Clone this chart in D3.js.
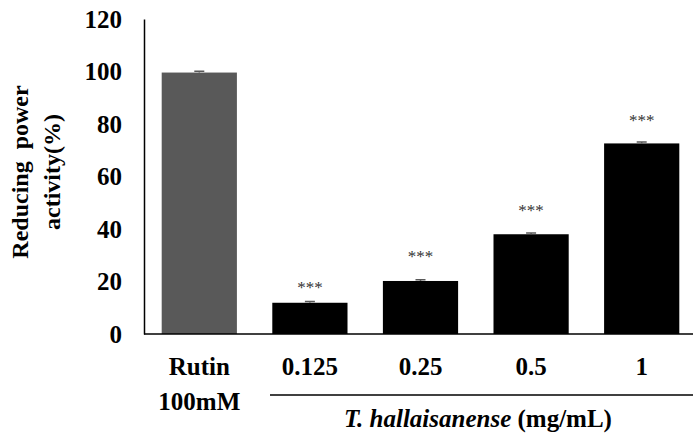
<!DOCTYPE html>
<html>
<head>
<meta charset="utf-8">
<script src="https://cdn.jsdelivr.net/npm/d3@7"></script>
<style>
body { margin: 0; background: #fff; }
svg text { font-family: "Liberation Serif", "Times New Roman", serif; font-weight: bold; }
</style>
</head>
<body>
<svg id="chart" width="693" height="434"></svg>
<script>
// data
var categories = ["Rutin", "0.125", "0.25", "0.5", "1"];
var subLabels = ["100mM", "", "", "", ""];
var values = [99.6, 11.9, 20.2, 38.0, 72.6];
var errors = [0.5, 0.5, 0.5, 0.5, 0.5];
var stars = ["", "***", "***", "***", "***"];
var starPos = [0, 19.7, 31.4, 48.8, 83.4];
var yTicks = [0, 20, 40, 60, 80, 100, 120];

var svg = d3.select("#chart");

var x = d3.scaleBand()
.domain(categories)
.range([144, 697])
.paddingInner(0.32)
.paddingOuter(0.16);

var y = d3.scaleLinear().domain([0, 120]).range([334, 19]);

var g = svg.append("g");

// bars
g.selectAll(".bar")
.data(values)
.enter()
.append("rect")
.attr("class", "bar")
.attr("x", function(d, i) { return x(categories[i]); })
.attr("y", function(d) { return y(d); })
.attr("width", x.bandwidth())
.attr("height", function(d) { return y(0) - y(d); })
.attr("fill", function(d, i) { return i == 0 ? "#595959" : "#000"; });

// error bars
g.selectAll(".err")
.data(values)
.enter()
.append("path")
.attr("class", "err")
.attr("d", function(d, i) {
    var cx = x(categories[i]) + x.bandwidth() / 2;
    var t = y(d + errors[i]);
    return "M" + (cx - 5) + "," + t + "H" + (cx + 5) + "M" + cx + "," + t + "V" + y(d);
})
.attr("stroke", "#595959")
.attr("stroke-width", 1.5)
.attr("fill", "none");

// significance stars
g.selectAll(".star")
.data(stars)
.enter()
.append("text")
.attr("class", "star")
.attr("x", function(d, i) { return x(categories[i]) + x.bandwidth() / 2; })
.attr("y", function(d, i) { return y(starPos[i]); })
.attr("dy", "0.62em")
.attr("text-anchor", "middle")
.style("font-size", "17px")
.style("font-weight", "normal")
.attr("fill", "#333")
.text(function(d) { return d; });

// y axis
var yAxis = d3.axisLeft(y).tickValues(yTicks).tickSize(0).tickPadding(22);
var ya = svg.append("g").attr("transform", "translate(144,0)").call(yAxis);
ya.select(".domain").attr("stroke", "#000").attr("stroke-width", 1.5);
ya.selectAll("text").style("font-size", "25px").style("font-family", "Liberation Serif").attr("fill", "#000");

// x axis
var xAxis = d3.axisBottom(x).tickSize(0).tickPadding(23);
var xa = svg.append("g").attr("transform", "translate(0,334)").call(xAxis);
xa.select(".domain").attr("d", "M144,0H693").attr("stroke", "#000").attr("stroke-width", 1.5);
xa.selectAll("text").style("font-size", "25px").style("font-family", "Liberation Serif").attr("fill", "#000");

// second line under Rutin
svg.selectAll(".sub")
.data(subLabels)
.enter()
.append("text")
.attr("class", "sub")
.attr("x", function(d, i) { return x(categories[i]) + x.bandwidth() / 2; })
.attr("y", 410)
.attr("text-anchor", "middle")
.style("font-size", "25px")
.text(function(d) { return d; });

// group line + label
svg.append("line")
.attr("x1", 270).attr("x2", 693)
.attr("y1", 395).attr("y2", 395)
.attr("stroke", "#000").attr("stroke-width", 1.5);

var gl = svg.append("text")
.attr("x", 478)
.attr("y", 427)
.attr("text-anchor", "middle")
.style("font-size", "25px");
gl.append("tspan").style("font-style", "italic").text("T. hallaisanense ");
gl.append("tspan").text("(mg/mL)");

// y label
var yl = svg.append("text")
.attr("transform", "translate(0,172) rotate(-90)")
.attr("text-anchor", "middle")
.style("font-size", "24px")
.style("word-spacing", "6px");
yl.append("tspan").attr("x", 0).attr("y", 28).text("Reducing power");
yl.append("tspan").attr("x", 0).attr("y", 60).text("activity(%)");
</script>
</body>
</html>
